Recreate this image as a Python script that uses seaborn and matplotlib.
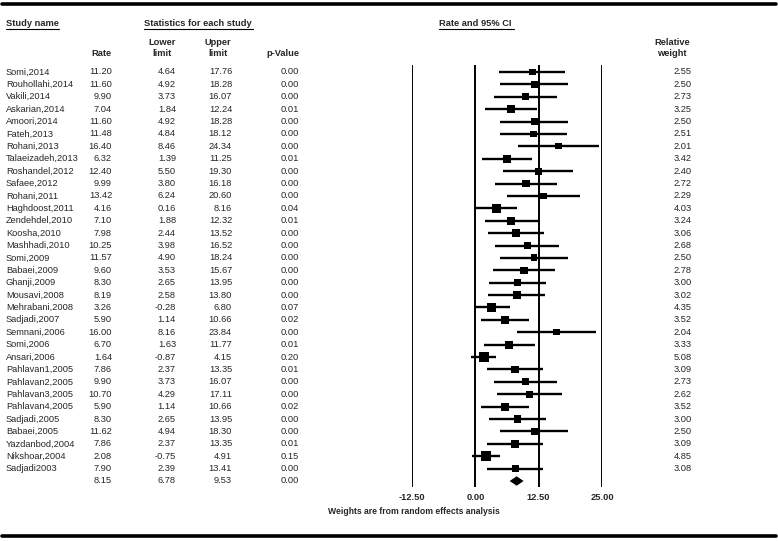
import matplotlib
matplotlib.use("Agg")
import matplotlib.pyplot as plt
import matplotlib.transforms as mtransforms
import seaborn as sns
import pandas as pd
import numpy as np

studies = ["Somi,2014", "Rouhollahi,2014", "Vakili,2014", "Askarian,2014", "Amoori,2014",
           "Fateh,2013", "Rohani,2013", "Talaeizadeh,2013", "Roshandel,2012", "Safaee,2012",
           "Rohani,2011", "Haghdoost,2011", "Zendehdel,2010", "Koosha,2010", "Mashhadi,2010",
           "Somi,2009", "Babaei,2009", "Ghanji,2009", "Mousavi,2008", "Mehrabani,2008",
           "Sadjadi,2007", "Semnani,2006", "Somi,2006", "Ansari,2006", "Pahlavan1,2005",
           "Pahlavan2,2005", "Pahlavan3,2005", "Pahlavan4,2005", "Sadjadi,2005", "Babaei,2005",
           "Yazdanbod,2004", "Nikshoar,2004", "Sadjadi2003"]
rate = [11.20, 11.60, 9.90, 7.04, 11.60, 11.48, 16.40, 6.32, 12.40, 9.99, 13.42, 4.16, 7.10,
        7.98, 10.25, 11.57, 9.60, 8.30, 8.19, 3.26, 5.90, 16.00, 6.70, 1.64, 7.86, 9.90,
        10.70, 5.90, 8.30, 11.62, 7.86, 2.08, 7.90]
lower = [4.64, 4.92, 3.73, 1.84, 4.92, 4.84, 8.46, 1.39, 5.50, 3.80, 6.24, 0.16, 1.88, 2.44,
         3.98, 4.90, 3.53, 2.65, 2.58, -0.28, 1.14, 8.16, 1.63, -0.87, 2.37, 3.73, 4.29, 1.14,
         2.65, 4.94, 2.37, -0.75, 2.39]
upper = [17.76, 18.28, 16.07, 12.24, 18.28, 18.12, 24.34, 11.25, 19.30, 16.18, 20.60, 8.16,
         12.32, 13.52, 16.52, 18.24, 15.67, 13.95, 13.80, 6.80, 10.66, 23.84, 11.77, 4.15,
         13.35, 16.07, 17.11, 10.66, 13.95, 18.30, 13.35, 4.91, 13.41]
pvalue = [0.00, 0.00, 0.00, 0.01, 0.00, 0.00, 0.00, 0.01, 0.00, 0.00, 0.00, 0.04, 0.01, 0.00,
          0.00, 0.00, 0.00, 0.00, 0.00, 0.07, 0.02, 0.00, 0.01, 0.20, 0.01, 0.00, 0.00, 0.02,
          0.00, 0.00, 0.01, 0.15, 0.00]
weight = [2.55, 2.50, 2.73, 3.25, 2.50, 2.51, 2.01, 3.42, 2.40, 2.72, 2.29, 4.03, 3.24, 3.06,
          2.68, 2.50, 2.78, 3.00, 3.02, 4.35, 3.52, 2.04, 3.33, 5.08, 3.09, 2.73, 2.62, 3.52,
          3.00, 2.50, 3.09, 4.85, 3.08]
summary = {"rate": 8.15, "lower": 6.78, "upper": 9.53, "p": 0.00}
xticks = [-12.5, 0.0, 12.5, 25.0]

sns.set_style("white")
plt.rcParams["font.family"] = ["Liberation Sans", "DejaVu Sans"]

W, H = 778, 541
fig = plt.figure(figsize=(W / 100, H / 100), dpi=100)

def fx(px):
    return px / W

def fy(py):
    return 1 - py / H

n = len(studies)
df = pd.DataFrame({"study": studies, "rate": rate, "lower": lower, "upper": upper,
                   "p": pvalue, "weight": weight, "row": np.arange(n)})

# forest axes: -12.5 -> px 412, 25 -> px 602 ; top px 65, bottom px 487
ax = fig.add_axes([fx(412), fy(487), fx(602) - fx(412), (487 - 65) / H])
row0_px, rowlast_px = 72, 481
step = (rowlast_px - row0_px) / n
ax.set_xlim(xticks[0], xticks[-1])
ax.set_ylim(n + (487 - rowlast_px) / step, -(row0_px - 65) / step)
for s in ax.spines.values():
    s.set_visible(False)
for xv in xticks:
    ax.axvline(xv, color="black", lw=1.4, zorder=1)

ax.hlines(df["row"], df["lower"], df["upper"], color="black", lw=1.7, zorder=2)
k = 9.8
sns.scatterplot(data=df, x="rate", y="row", size="weight",
                sizes=(k * min(weight), k * max(weight)),
                size_norm=(min(weight), max(weight)),
                marker="s", color="black", linewidth=0, legend=False, ax=ax, zorder=3)
# summary diamond
hh = 0.38
ax.fill([summary["lower"], summary["rate"], summary["upper"], summary["rate"]],
        [n, n - hh, n, n + hh], color="black", lw=0, zorder=3)

ax.set_xticks(xticks)
ax.set_xticklabels([f"{v:.2f}" for v in xticks], fontsize=6.7, fontweight="bold")
ax.tick_params(axis="x", length=0, pad=4)
ax.set_yticks([])
ax.set_xlabel("")
ax.set_ylabel("")
ax.patch.set_alpha(0)

# table text
fs = 6.7
tr = mtransforms.blended_transform_factory(fig.transFigure, ax.transData)
for i in range(n):
    ax.text(fx(6), i, studies[i], transform=tr, ha="left", va="center", fontsize=fs, clip_on=False)
    ax.text(fx(112), i, f"{rate[i]:.2f}", transform=tr, ha="right", va="center", fontsize=fs, clip_on=False)
    ax.text(fx(176), i, f"{lower[i]:.2f}", transform=tr, ha="right", va="center", fontsize=fs, clip_on=False)
    ax.text(fx(232), i, f"{upper[i]:.2f}", transform=tr, ha="right", va="center", fontsize=fs, clip_on=False)
    ax.text(fx(299), i, f"{pvalue[i]:.2f}", transform=tr, ha="right", va="center", fontsize=fs, clip_on=False)
    ax.text(fx(692), i, f"{weight[i]:.2f}", transform=tr, ha="right", va="center", fontsize=fs, clip_on=False)
ax.text(fx(112), n, f"{summary['rate']:.2f}", transform=tr, ha="right", va="center", fontsize=fs, clip_on=False)
ax.text(fx(176), n, f"{summary['lower']:.2f}", transform=tr, ha="right", va="center", fontsize=fs, clip_on=False)
ax.text(fx(232), n, f"{summary['upper']:.2f}", transform=tr, ha="right", va="center", fontsize=fs, clip_on=False)
ax.text(fx(299), n, f"{summary['p']:.2f}", transform=tr, ha="right", va="center", fontsize=fs, clip_on=False)

# headers
hb = dict(fontsize=fs, fontweight="bold", va="center")
fig.text(fx(6), fy(23), "Study name", ha="left", **hb)
fig.text(fx(144), fy(23), "Statistics for each study", ha="left", **hb)
fig.text(fx(439), fy(23), "Rate and 95% CI", ha="left", **hb)
for x0, x1 in [(6, 59), (144, 253), (439, 514)]:
    fig.add_artist(plt.Line2D([fx(x0), fx(x1)], [fy(29), fy(29)], color="black", lw=0.8,
                              transform=fig.transFigure))
fig.text(fx(112), fy(53), "Rate", ha="right", **hb)
fig.text(fx(162), fy(48), "Lower\nlimit", ha="center", multialignment="center", linespacing=1.25, **hb)
fig.text(fx(218), fy(48), "Upper\nlimit", ha="center", multialignment="center", linespacing=1.25, **hb)
fig.text(fx(299), fy(53), "p-Value", ha="right", **hb)
fig.text(fx(672), fy(48), "Relative\nweight", ha="center", multialignment="center", linespacing=1.25, **hb)
fig.text(fx(328), fy(512), "Weights are from random effects analysis", ha="left",
         fontsize=6.2, fontweight="bold", va="center")

# thick rules
for yy in (4, 536):
    fig.add_artist(plt.Line2D([fx(2), fx(776)], [fy(yy), fy(yy)], color="black", lw=2.6,
                              transform=fig.transFigure))

fig.savefig("out.png", dpi=100, facecolor="white")
